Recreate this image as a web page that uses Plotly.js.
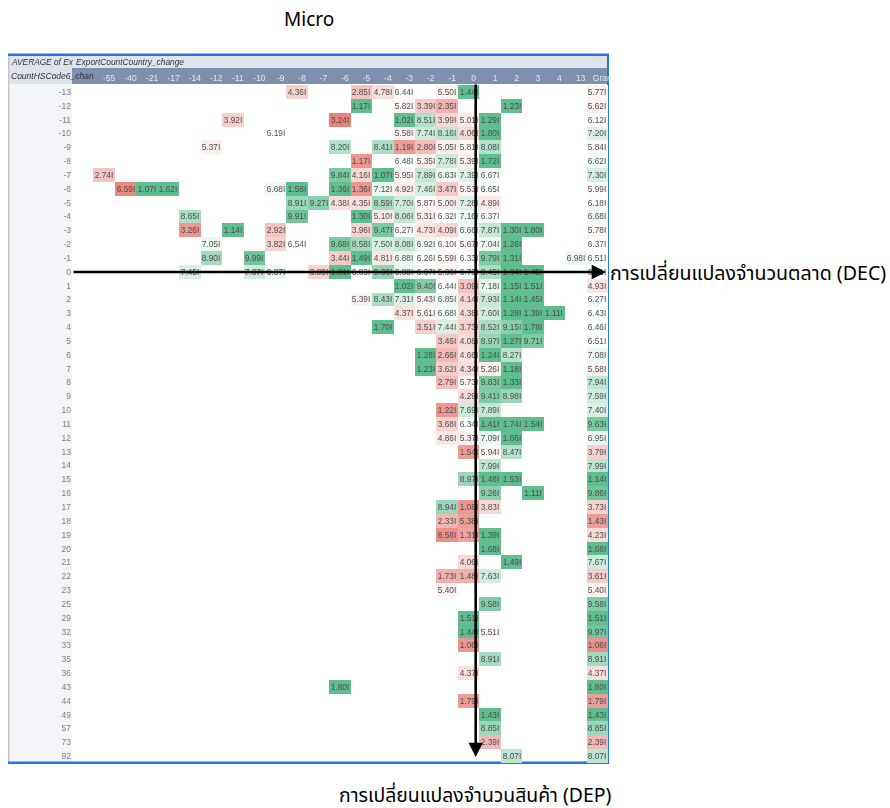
<!DOCTYPE html>
<html><head><meta charset="utf-8">
<script src="https://cdn.plot.ly/plotly-3.0.1.min.js"></script>
<style>
html,body{margin:0;padding:0;background:#fff}
#chart{width:890px;height:808px}
.heatmaplayer{filter:blur(0.6px)}
.xtick text,.ytick text{filter:blur(0.55px)}
.annotation[data-index="0"] text,.annotation[data-index="1"] text,.annotation[data-index="2"] text{filter:blur(0.5px)}
</style></head><body><div id="chart"></div>
<script>
const columns=[" ","-55","-40","-21","-17","-14","-12","-11","-10","-9","-8","-7","-6","-5","-4","-3","-2","-1","0","1","2","3","4","13","Gran"];
const rowsLabels=["-13","-12","-11","-10","-9","-8","-7","-6","-5","-4","-3","-2","-1","0","1","2","3","4","5","6","7","8","9","10","11","12","13","14","15","16","17","18","19","20","21","22","23","25","29","32","33","35","36","43","44","49","57","73","92"];
// each row: [column, printed text, colour level (-1 red … +1 green)]
const cellsByRow={
"-13":[["-8","4.36",-.35],["-5","2.85",-.45],["-4","4.78",-.25],["-3","6.44",.02],["-1","5.50",-.1],["0","1.44",.95],["Gran","5.77",-.08]],
"-12":[["-5","1.17",.95],["-3","5.82",-.08],["-2","3.39",-.4],["-1","2.35",-.6],["2","1.23",.95],["Gran","5.62",-.1]],
"-11":[["-11","3.92",-.35],["-6","3.24",-.95],["-3","1.02",.95],["-2","8.51",.45],["-1","3.99",-.3],["0","5.01",-.15],["1","1.29",.95],["Gran","6.12",-.02]],
"-10":[["-9","6.19",.0],["-3","5.58",-.1],["-2","7.74",.3],["-1","8.16",.4],["0","4.06",-.3],["1","1.80",.95],["Gran","7.20",.2]],
"-9":[["-12","5.37",-.12],["-6","8.20",.45],["-4","8.41",.5],["-3","1.19",-.75],["-2","2.80",-.5],["-1","5.05",-.15],["0","5.81",-.08],["1","8.08",.45],["Gran","5.84",-.07]],
"-8":[["-5","1.17",-.8],["-3","6.48",.02],["-2","5.35",-.12],["-1","7.78",.3],["0","5.39",-.12],["1","1.72",.95],["Gran","6.62",.05]],
"-7":[["-55","2.74",-.45],["-6","9.84",.8],["-5","4.16",-.3],["-4","1.07",.95],["-3","5.95",-.05],["-2","7.89",.35],["-1","6.83",.1],["0","7.39",.2],["1","6.67",.05],["Gran","7.30",.25]],
"-6":[["-40","6.59",-.9],["-21","1.07",.95],["-17","1.62",.95],["-9","6.68",.08],["-8","1.58",.95],["-6","1.36",.95],["-5","1.36",-.8],["-4","7.12",.12],["-3","4.92",-.15],["-2","7.46",.25],["-1","3.47",-.4],["0","5.53",-.1],["1","6.65",.05],["Gran","5.99",-.03]],
"-5":[["-8","8.91",.6],["-7","9.27",.7],["-6","4.38",-.25],["-5","4.35",-.25],["-4","8.59",.55],["-3","7.70",.3],["-2","5.87",-.05],["-1","5.00",-.15],["0","7.28",.2],["1","4.89",-.18],["Gran","6.18",-.01]],
"-4":[["-14","8.65",.5],["-8","9.91",.85],["-5","1.30",.95],["-4","5.10",-.15],["-3","8.06",.35],["-2","5.31",-.12],["-1","6.32",.0],["0","7.16",.12],["1","6.37",.0],["Gran","6.68",.07]],
"-3":[["-14","3.26",-.8],["-11","1.14",.95],["-9","2.92",-.45],["-5","3.96",-.35],["-4","9.47",.8],["-3","6.27",.0],["-2","4.73",-.2],["-1","4.09",-.3],["0","6.66",.08],["1","7.87",.35],["2","1.30",.95],["3","1.80",.95],["Gran","5.78",-.08]],
"-2":[["-12","7.05",.12],["-9","3.82",-.35],["-8","6.54",.02],["-6","9.68",.8],["-5","8.58",.55],["-4","7.50",.25],["-3","8.08",.35],["-2","6.92",.1],["-1","6.10",-.02],["0","5.67",-.08],["1","7.04",.12],["2","1.26",.95],["Gran","6.37",.0]],
"-1":[["-12","8.90",.55],["-10","9.99",.85],["-6","3.44",-.4],["-5","1.49",.95],["-4","4.81",-.18],["-3","6.88",.1],["-2","6.26",.0],["-1","5.59",-.08],["0","6.33",.0],["1","9.79",.8],["2","1.31",.95],["13","6.98",.1],["Gran","6.51",.02]],
"0":[["-14","7.45",.25],["-10","7.87",.3],["-9","6.87",.12],["-7","3.89",-.35],["-6","1.81",.95],["-5","6.86",.03],["-4","9.36",.65],["-3","6.88",.15],["-2","6.67",.07],["-1","5.36",-.1],["0","6.73",.03],["1","8.45",.5],["2","1.34",.95],["3","1.45",.95],["Gran","6.61",.04]],
"1":[["-3","1.02",.95],["-2","9.40",.75],["-1","6.44",.02],["0","3.09",-.45],["1","7.18",.15],["2","1.15",.95],["3","1.51",.95],["Gran","4.93",-.2]],
"2":[["-5","5.39",-.1],["-4","8.43",.5],["-3","7.31",.2],["-2","5.43",-.1],["-1","6.85",.1],["0","4.14",-.3],["1","7.93",.35],["2","1.14",.95],["3","1.45",.95],["Gran","6.27",.0]],
"3":[["-3","4.37",-.25],["-2","5.61",-.08],["-1","6.68",.08],["0","4.38",-.28],["1","7.60",.28],["2","1.28",.95],["3","1.39",.95],["4","1.11",.95],["Gran","6.43",.01]],
"4":[["-4","1.70",.95],["-2","3.51",-.38],["-1","7.44",.22],["0","3.73",-.35],["1","8.52",.5],["2","9.15",.7],["3","1.78",.95],["Gran","6.46",.02]],
"5":[["-1","3.46",-.42],["0","4.08",-.28],["1","8.97",.62],["2","1.27",.95],["3","9.71",.8],["Gran","6.51",.02]],
"6":[["-2","1.28",.95],["-1","2.66",-.55],["0","4.66",-.22],["1","1.24",.95],["2","8.27",.42],["Gran","7.08",.12]],
"7":[["-2","1.23",.95],["-1","3.62",-.38],["0","4.34",-.28],["1","5.26",-.12],["2","1.18",.95],["Gran","5.58",-.1]],
"8":[["-1","2.79",-.5],["0","5.73",-.08],["1","9.83",.8],["2","1.33",.95],["Gran","7.94",.38]],
"9":[["0","4.29",-.28],["1","9.41",.75],["2","8.98",.6],["Gran","7.59",.28]],
"10":[["-1","1.22",-.8],["0","7.69",.3],["1","7.89",.35],["Gran","7.40",.22]],
"11":[["-1","3.68",-.35],["0","6.34",.0],["1","1.41",.95],["2","1.74",.95],["3","1.54",.95],["Gran","9.63",.8]],
"12":[["-1","4.86",-.18],["0","5.37",-.12],["1","7.09",.12],["2","1.66",.95],["Gran","6.95",.1]],
"13":[["0","1.54",-.75],["1","5.94",-.05],["2","8.47",.45],["Gran","3.79",-.35]],
"14":[["1","7.99",.4],["Gran","7.99",.4]],
"15":[["0","8.97",.6],["1","1.48",.95],["2","1.53",.95],["Gran","1.14",.95]],
"16":[["1","9.26",.7],["3","1.11",.95],["Gran","9.86",.85]],
"17":[["-1","8.94",.6],["0","1.08",-.8],["1","3.83",-.3],["Gran","3.73",-.35]],
"18":[["-1","2.33",-.55],["0","5.38",-.75],["Gran","1.43",-.75]],
"19":[["-1","8.58",-.85],["0","1.31",-.7],["1","1.39",.95],["Gran","4.23",-.28]],
"20":[["1","1.68",.95],["Gran","1.68",.95]],
"21":[["0","4.06",-.3],["2","1.49",.95],["Gran","7.67",.3]],
"22":[["-1","1.73",-.6],["0","1.48",-.6],["1","7.63",.28],["Gran","3.61",-.4]],
"23":[["-1","5.40",-.1],["Gran","5.40",-.1]],
"25":[["1","9.58",.75],["Gran","9.58",.75]],
"29":[["0","1.51",.95],["Gran","1.51",.95]],
"32":[["0","1.44",.95],["1","5.51",-.08],["Gran","9.97",.85]],
"33":[["0","1.06",-.8],["Gran","1.06",-.85]],
"35":[["1","8.91",.55],["Gran","8.91",.55]],
"36":[["0","4.37",-.25],["Gran","4.37",-.25]],
"43":[["-6","1.80",.95],["Gran","1.80",.95]],
"44":[["0","1.79",-.75],["Gran","1.79",-.75]],
"49":[["1","1.43",.95],["Gran","1.43",.95]],
"57":[["1","8.85",.6],["Gran","8.85",.6]],
"73":[["1","2.39",-.55],["Gran","2.39",-.55]],
"92":[["2","8.07",.4],["Gran","8.07",.4]]
};
const z=rowsLabels.map(()=>columns.map(()=>null));
const text=rowsLabels.map(()=>columns.map(()=>""));
rowsLabels.forEach((r,i)=>cellsByRow[r].forEach(([c,t,v])=>{const j=columns.indexOf(c);z[i][j]=v;text[i][j]=t+"I";}));

const L=72,R=608,T=85,B=763;
const px=v=>(v-L)/(R-L), py=v=>(B-v)/(B-T);
const rect=(x0,x1,y0,y1,fill)=>({type:"rect",xref:"paper",yref:"paper",x0:px(x0),x1:px(x1),y0:py(y0),y1:py(y1),fillcolor:fill,line:{width:0},layer:"below"});
const note=(x,y,t,size,color,anchor,italic,family)=>({xref:"paper",yref:"paper",x:px(x),y:py(y),text:t,showarrow:false,xanchor:anchor,yanchor:"middle",font:{size,color,family,style:italic?"italic":"normal"}});
const SANS="Liberation Sans, Arial, sans-serif";
const THAI="'Noto Sans','Noto Sans Thai',Loma,sans-serif";

const layout={
 width:890,height:808,margin:{l:L,r:890-R,t:T,b:808-B,pad:0},paper_bgcolor:"#fff",plot_bgcolor:"rgba(0,0,0,0)",showlegend:false,
 xaxis:{type:"category",side:"top",categoryorder:"array",categoryarray:columns,tickmode:"array",tickvals:columns,ticktext:columns,ticks:"",showgrid:false,zeroline:false,showline:false,ticklabelstandoff:1,ticklabelshift:5,tickangle:0,tickfont:{family:SANS,size:8.5,color:"#e4e8f0"}},
 yaxis:{type:"category",autorange:"reversed",categoryorder:"array",categoryarray:rowsLabels,tickmode:"array",tickvals:rowsLabels,ticktext:rowsLabels,ticks:"",showgrid:false,zeroline:false,showline:false,tickfont:{family:SANS,size:8.5,color:"#7d8088"}},
 shapes:[
  rect(9,608,56,68,"#dfe3ec"),
  rect(9,72,68,84,"#dfe3ec"),
  rect(72,608,68,84,"#7e8fb0"),
  rect(9,72,84,762,"#f3f5f8"),
  rect(8,9.5,54,764,"#c4c6ca"),
  rect(8,609,53.5,56,"#1f77e6"),
  rect(8,609,761.5,764,"#1f77e6"),
  rect(607,609,54,764,"#1f77e6"),
  {type:"circle",xref:"paper",yref:"paper",x0:px(473.5),x1:px(477.5),y0:py(274),y1:py(270),fillcolor:"#f00",line:{width:0},layer:"above"}
 ],
 annotations:[
  note(9,62,"AVERAGE of Ex",8.3,"#333",  "left",true,SANS),
  note(74,62,"ExportCountCountry_change",8.4,"#333","left",true,SANS),
  note(9,75.5,"CountHSCode6_chan",8.5,"#333","left",true,SANS),
  note(308.5,19,"Micro",19,"#000","center",false,THAI),
  note(608,272,"การเปลี่ยนแปลงจำนวนตลาด (DEC)",19.6,"#000","left",false,THAI),
  note(475,794,"การเปลี่ยนแปลงจำนวนสินค้า (DEP)",19.4,"#000","center",false,THAI),
  {xref:"paper",yref:"paper",x:px(606),y:py(272),ax:-534,ay:0,text:"",showarrow:true,arrowhead:2,arrowsize:1.1,arrowwidth:2.6,arrowcolor:"#000"},
  {xref:"paper",yref:"paper",x:px(475.7),y:py(757),ax:0,ay:-674,text:"",showarrow:true,arrowhead:2,arrowsize:1.1,arrowwidth:2.6,arrowcolor:"#000"}
 ]
};
const trace={type:"heatmap",x:columns,y:rowsLabels,z,text,texttemplate:"%{text}",textfont:{family:SANS,size:8.3,color:"#4d4d4d"},
 zmin:-1,zmax:1,showscale:false,hoverongaps:false,
 colorscale:[[0,"#e67c73"],[0.5,"#ffffff"],[1,"#57bb8a"]]};
Plotly.newPlot("chart",[trace],layout,{displayModeBar:false,staticPlot:true});
</script></body></html>
